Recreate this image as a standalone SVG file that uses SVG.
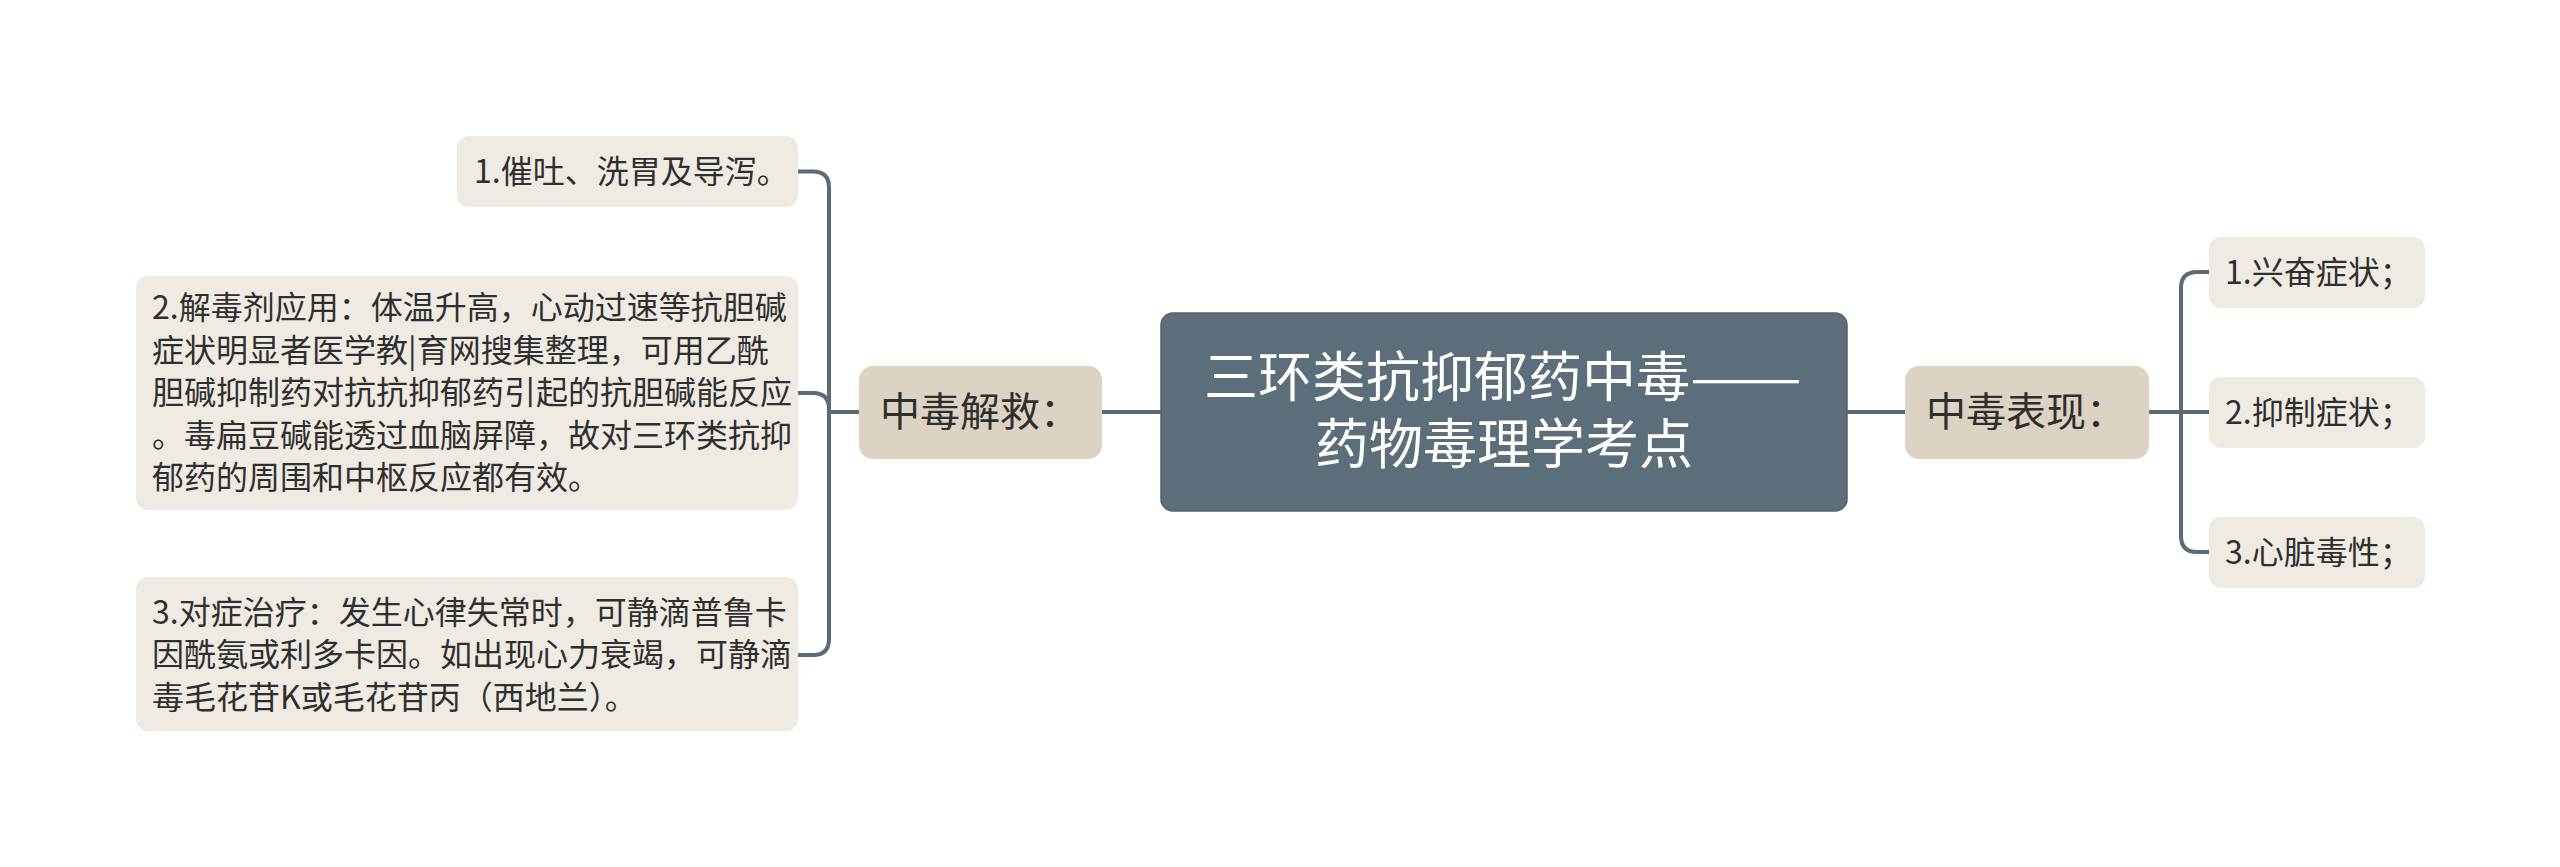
<svg xmlns="http://www.w3.org/2000/svg" width="2560" height="867" viewBox="0 0 2560 867">
<style>
text{font-family:"Noto Sans CJK SC","Noto Sans",sans-serif;}
.root rect{fill:#5c6e7a;stroke:#52626d;stroke-width:1.5;}
.root text{fill:#ffffff;font-size:54px;}
.mid rect{fill:#ddd3c4;}
.mid text{fill:#2f2f2f;font-size:40px;}
.leaf rect{fill:#efebe3;}
.leaf text{fill:#2f2f2f;font-size:32px;}
.conn path{fill:none;stroke:#5b6b77;stroke-width:4;stroke-linecap:round;stroke-linejoin:round;}
</style>
<rect width="2560" height="867" fill="#ffffff"/>
<g class="conn" id="connectors">
<path d="M1102 412 L1161 412"/>
<path d="M1847 412 L1905 412"/>
<path d="M859 412 L829 412 L829 187.5 Q829 171.5 813 171.5 L798 171.5"/>
<path d="M859 412 L829 412 L829 409 Q829 393 813 393 L798 393"/>
<path d="M859 412 L829 412 L829 639 Q829 655 813 655 L798 655"/>
<path d="M2149 412 L2181 412 L2181 288 Q2181 272 2197 272 L2209 272"/>
<path d="M2149 412 L2209 412"/>
<path d="M2149 412 L2181 412 L2181 536 Q2181 552 2197 552 L2209 552"/>
</g>
<g class="root" id="root">
<rect x="1161" y="313" width="686" height="198" rx="12"/>
<text x="1204" y="397">三环类抗抑郁药中毒<tspan textLength="112" lengthAdjust="spacingAndGlyphs">——</tspan></text>
<text x="1504" y="464" text-anchor="middle">药物毒理学考点</text>
</g>
<g class="mid" id="rescue">
<rect x="859" y="366" width="243" height="93" rx="14"/>
<text x="880" y="426">中毒解救：</text>
</g>
<g class="mid" id="symptoms">
<rect x="1905" y="366" width="244" height="93" rx="14"/>
<text x="1926" y="426">中毒表现：</text>
</g>
<g class="leaf" id="r1">
<rect x="457" y="136" width="341" height="71" rx="12"/>
<text x="474" y="183">1.催吐、洗胃及导泻。</text>
</g>
<g class="leaf" id="r2">
<rect x="136" y="276" width="662" height="234" rx="12"/>
<text x="152" y="319">2.解毒剂应用：体温升高，心动过速等抗胆碱</text>
<text x="152" y="361.5">症状明显者医学教|育网搜集整理，可用乙酰</text>
<text x="152" y="404">胆碱抑制药对抗抗抑郁药引起的抗胆碱能反应</text>
<text x="152" y="446.5">。毒扁豆碱能透过血脑屏障，故对三环类抗抑</text>
<text x="152" y="489">郁药的周围和中枢反应都有效。</text>
</g>
<g class="leaf" id="r3">
<rect x="136" y="577" width="662" height="154" rx="12"/>
<text x="152" y="623.5">3.对症治疗：发生心律失常时，可静滴普鲁卡</text>
<text x="152" y="666">因酰氨或利多卡因。如出现心力衰竭，可静滴</text>
<text x="152" y="708.5">毒毛花苷K或毛花苷丙（西地兰）。</text>
</g>
<g class="leaf" id="s1">
<rect x="2209" y="237" width="216" height="71" rx="12"/>
<text x="2225" y="284">1.兴奋症状；</text>
</g>
<g class="leaf" id="s2">
<rect x="2209" y="377" width="216" height="71" rx="12"/>
<text x="2225" y="424">2.抑制症状；</text>
</g>
<g class="leaf" id="s3">
<rect x="2209" y="517" width="216" height="71" rx="12"/>
<text x="2225" y="564">3.心脏毒性；</text>
</g>
</svg>
